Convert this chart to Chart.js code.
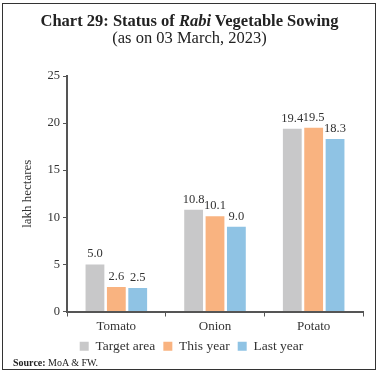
<!DOCTYPE html>
<html>
<head>
<meta charset="utf-8">
<script src="https://cdn.jsdelivr.net/npm/chart.js@4/dist/chart.umd.min.js"></script>
<style>
  html, body { margin: 0; padding: 0; background: #fff; }
  #wrap { position: relative; width: 379px; height: 380px; overflow: hidden; font-family: "Liberation Serif", serif; color: #222; }
  #frame { position: absolute; left: 2px; top: 3px; width: 374px; height: 367px; border: 1.5px solid #333; box-sizing: border-box; pointer-events: none; }
  #title { position: absolute; left: 0; width: 379px; top: 12px; text-align: center; font-size: 16.5px; font-weight: bold; line-height: 18px; }
  #sub { position: absolute; left: 0; width: 379px; top: 29px; text-align: center; font-size: 16.5px; line-height: 18px; }
  #src { position: absolute; left: 13px; top: 357px; font-size: 10px; }
  canvas { position: absolute; left: 0; top: 0; }
</style>
</head>
<body>
<div id="wrap">
  <canvas id="c" width="379" height="380"></canvas>
  <div id="title">Chart 29: Status of <i>Rabi</i> Vegetable Sowing</div>
  <div id="sub">(as on 03 March, 2023)</div>
  <div id="src"><b>Source:</b> MoA &amp; FW.</div>
  <div id="frame"></div>
</div>
<script>
const categories = ["Tomato", "Onion", "Potato"];
const targetArea = [5.0, 10.8, 19.4];
const thisYear = [2.6, 10.1, 19.5];
const lastYear = [2.5, 9.0, 18.3];
const seriesNames = ["Target area", "This year", "Last year"];
const yTicks = [0, 5, 10, 15, 20, 25];

const FONT = "'Liberation Serif', serif";

const valueLabels = {
  id: 'valueLabels',
  afterDatasetsDraw(chart) {
    const ctx = chart.ctx;
    ctx.save();
    ctx.font = "12.5px " + FONT;
    ctx.fillStyle = '#333';
    ctx.textAlign = 'center';
    ctx.textBaseline = 'bottom';
    chart.data.datasets.forEach((ds, i) => {
      const meta = chart.getDatasetMeta(i);
      meta.data.forEach((el, j) => {
        ctx.fillText(ds.data[j].toFixed(1), el.x, el.y - 4);
      });
    });
    ctx.restore();
  }
};

new Chart(document.getElementById('c'), {
  type: 'bar',
  data: {
    labels: categories,
    datasets: [
      { label: seriesNames[0], data: targetArea, backgroundColor: '#C8C8C9' },
      { label: seriesNames[1], data: thisYear, backgroundColor: '#F9B380' },
      { label: seriesNames[2], data: lastYear, backgroundColor: '#8FC3E4' }
    ]
  },
  options: {
    responsive: false,
    animation: false,
    devicePixelRatio: 1,
    layout: { padding: { left: 20, right: 16, top: 76, bottom: 17 } },
    datasets: { bar: { categoryPercentage: 0.65, barPercentage: 0.88 } },
    plugins: {
      legend: {
        position: 'bottom',
        labels: {
          font: { family: FONT, size: 13.5 },
          color: '#333',
          boxWidth: 9,
          boxHeight: 9,
          padding: 8
        }
      },
      tooltip: { enabled: false },
      title: { display: false }
    },
    scales: {
      x: {
        grid: { display: true, drawOnChartArea: false, drawTicks: true, tickLength: 5, offset: true, color: '#555', lineWidth: 1 },
        border: { display: true, color: '#555', width: 2 },
        ticks: { font: { family: FONT, size: 13 }, color: '#333', padding: 2 },
        afterFit(scale) { scale.height = 20; }
      },
      y: {
        min: 0, max: 25,
        afterBuildTicks(scale) { scale.ticks = yTicks.map(v => ({ value: v })); },
        grid: { display: true, drawOnChartArea: false, drawTicks: true, tickLength: 4, color: '#555', lineWidth: 1 },
        border: { display: true, color: '#555', width: 2 },
        ticks: { font: { family: FONT, size: 12.5 }, color: '#333', padding: 3 },
        title: { display: true, text: 'lakh hectares', font: { family: FONT, size: 13 }, color: '#333', padding: { top: 0, bottom: 0 } },
        afterFit(scale) { scale.width = 47; }
      }
    }
  },
  plugins: [valueLabels]
});
</script>
</body>
</html>
